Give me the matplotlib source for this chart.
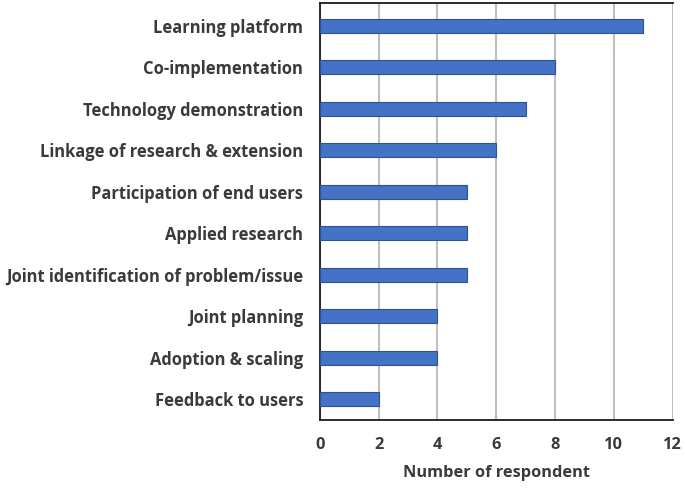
import matplotlib.pyplot as plt

categories = ['Learning platform', 'Co-implementation', 'Technology demonstration',
              'Linkage of research & extension', 'Participation of end users',
              'Applied research', 'Joint identification of problem/issue',
              'Joint planning', 'Adoption & scaling', 'Feedback to users']
respondents = [11, 8, 7, 6, 5, 5, 5, 4, 4, 2]
xticks = [0, 2, 4, 6, 8, 10, 12]

plt.rcParams['font.family'] = ['Open Sans', 'DejaVu Sans']
text_color = '#3a3a3a'

fig = plt.figure(figsize=(6.85, 4.9), dpi=100)
ax = fig.add_axes([0.467, 0.143, 0.515, 0.851])

pos = list(range(len(categories)))[::-1]
ax.barh(pos, respondents, height=0.34, color='#4472C4', edgecolor='#2F4F9F', linewidth=0.8, zorder=3)

ax.set_xlim(0, 12)
ax.set_ylim(-0.5, len(categories) - 0.45)
ax.set_xticks(xticks)
ax.set_xticklabels([str(t) for t in xticks], fontsize=11.8, fontweight='bold', color=text_color)
ax.set_yticks(pos)
ax.set_yticklabels(categories, fontsize=11.9, fontweight='bold', color=text_color)
ax.tick_params(axis='both', length=0)
ax.tick_params(axis='x', pad=12)
ax.tick_params(axis='y', pad=12)
ax.xaxis.grid(True, color='#BFBFBF', linewidth=1.5, zorder=0)
ax.set_axisbelow(True)

for side in ['left', 'top', 'bottom']:
    ax.spines[side].set_color('#1a1a1a')
    ax.spines[side].set_linewidth(1.3)
ax.spines['right'].set_visible(False)

ax.set_xlabel('Number of respondent', fontsize=11.8, fontweight='bold', color=text_color, labelpad=9)

fig.savefig('out.png', dpi=100)
